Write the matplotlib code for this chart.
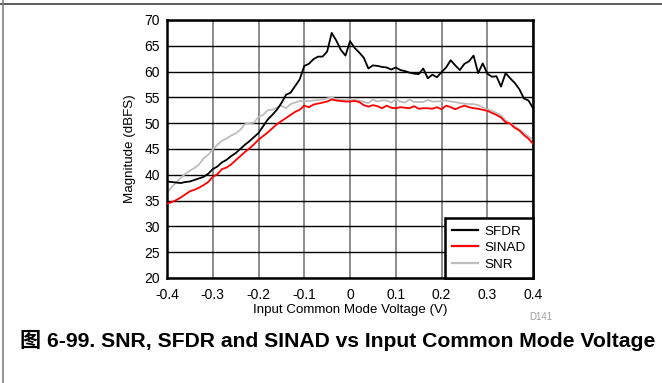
import numpy as np
import matplotlib
matplotlib.use("Agg")
import matplotlib.pyplot as plt
from matplotlib.lines import Line2D

plt.rcParams['font.family'] = ['Liberation Sans', 'Noto Sans CJK SC', 'DejaVu Sans']

# input common-mode voltage sweep, 10 mV steps
vcm = np.round(np.arange(-0.40, 0.401, 0.01), 2)

sfdr = [38.7, 38.6, 38.5, 38.4, 38.6, 38.7, 39.0, 39.3, 39.6, 40.2,
        41.1, 41.6, 42.4, 42.9, 43.6, 44.2, 45.0, 45.8, 46.5, 47.3,
        48.1, 49.4, 50.7, 51.6, 52.6, 53.9, 55.5, 55.9, 57.2, 58.5,
        61.1, 61.5, 62.4, 62.9, 62.9, 63.9, 67.5, 66.0, 64.2, 63.1,
        65.9, 64.6, 63.7, 62.7, 60.6, 61.2, 61.1, 60.9, 60.8, 60.4,
        60.8, 60.3, 60.1, 59.8, 59.6, 59.5, 60.6, 58.7, 59.4, 58.9,
        59.9, 60.8, 62.2, 61.2, 60.3, 61.5, 62.0, 63.1, 59.7, 61.6,
        59.6, 59.0, 59.1, 57.1, 59.7, 58.7, 57.8, 56.6, 54.8, 54.4,
        52.9]

sinad = [34.4, 34.7, 35.1, 35.6, 36.2, 36.8, 37.1, 37.5, 38.0, 38.6,
         39.6, 40.1, 41.1, 41.4, 42.0, 42.8, 43.6, 44.4, 45.1, 45.9,
         46.8, 47.5, 48.2, 49.0, 49.8, 50.4, 51.0, 51.6, 52.2, 52.6,
         53.4, 53.1, 53.6, 53.8, 54.0, 54.2, 54.6, 54.4, 54.3, 54.2,
         54.2, 54.3, 54.1, 53.5, 53.2, 53.5, 53.3, 52.9, 53.4, 53.0,
         52.9, 53.1, 53.0, 52.9, 53.3, 52.8, 52.9, 52.9, 52.8, 53.1,
         52.7, 53.4, 53.1, 52.7, 53.1, 53.4, 53.1, 52.9, 52.8, 52.6,
         52.4, 52.0, 51.6, 51.1, 50.2, 49.9, 49.1, 48.6, 47.7, 47.0,
         46.0]

snr = [36.5, 37.6, 38.5, 39.4, 40.2, 40.8, 41.3, 42.0, 43.2, 43.9,
       44.9, 45.8, 46.6, 47.0, 47.6, 48.0, 48.7, 49.8, 50.0, 50.1,
       51.2, 51.6, 52.5, 52.6, 53.0, 53.4, 52.9, 53.7, 54.0, 54.3,
       54.2, 54.3, 54.4, 54.5, 54.6, 54.8, 55.0, 54.6, 54.5, 54.5,
       54.6, 54.5, 54.4, 54.1, 53.9, 54.6, 54.2, 54.4, 54.4, 54.0,
       54.6, 54.2, 54.0, 54.6, 54.1, 54.1, 54.1, 54.5, 54.2, 54.2,
       54.3, 54.4, 54.2, 54.1, 53.9, 53.8, 53.7, 53.7, 53.5, 53.1,
       52.7, 52.4, 52.0, 51.5, 50.5, 50.0, 49.4, 48.8, 48.1, 47.4,
       46.8]

xticks = [-0.4, -0.3, -0.2, -0.1, 0, 0.1, 0.2, 0.3, 0.4]
xticklabels = ['-0.4', '-0.3', '-0.2', '-0.1', '0', '0.1', '0.2', '0.3', '0.4']
yticks = list(range(20, 71, 5))

fig = plt.figure(figsize=(6.62, 3.83), dpi=100)
ax = fig.add_axes([0.2523, 0.2742, 0.5529, 0.6736])

ax.plot(vcm, sfdr, color='black', lw=1.3, label='SFDR', zorder=4)
ax.plot(vcm, sinad, color='#ff0000', lw=1.3, label='SINAD', zorder=3)
ax.plot(vcm, snr, color='#bdbdbd', lw=1.3, label='SNR', zorder=2)

ax.set_xlim(-0.4, 0.4)
ax.set_ylim(20, 70)
ax.set_xticks(xticks)
ax.set_xticklabels(xticklabels)
ax.set_yticks(yticks)
ax.tick_params(length=0, labelsize=10)
ax.tick_params(axis='x', pad=7)
ax.tick_params(axis='y', pad=5)

# vertical grid gray, horizontal grid black
ax.xaxis.grid(True, color='#6e6e6e', lw=1.1)
ax.yaxis.grid(True, color='black', lw=1.0)
ax.set_axisbelow(True)
for sp in ax.spines.values():
    sp.set_linewidth(1.8)

ax.set_xlabel('Input Common Mode Voltage (V)', fontsize=9.6, labelpad=2)
ax.set_ylabel('Magnitude (dBFS)', fontsize=9.6, labelpad=6)

leg = ax.legend(loc='lower right', fontsize=9.7, fancybox=False, framealpha=1,
                edgecolor='black', borderaxespad=0, handlelength=1.9,
                handletextpad=0.5, labelspacing=0.3, borderpad=0.55)
leg.get_frame().set_linewidth(1.8)
for h in leg.get_lines():
    h.set_linewidth(1.6)

fig.text(0.817, 0.172, 'D141', fontsize=7, color='#a0a0a0', ha='center', va='center')
fig.text(0.030, 0.110, '图 6-99. SNR, SFDR and SINAD vs Input Common Mode Voltage',
         fontsize=15.2, fontweight='bold', ha='left', va='center')

# frame edges along top and left of the figure
fig.add_artist(Line2D([0, 1], [1 - 3.5 / 383] * 2, color='#404040', lw=1.2))
fig.add_artist(Line2D([3.0 / 662] * 2, [0, 1], color='#808080', lw=1.2))

fig.savefig('out.png', dpi=100)
